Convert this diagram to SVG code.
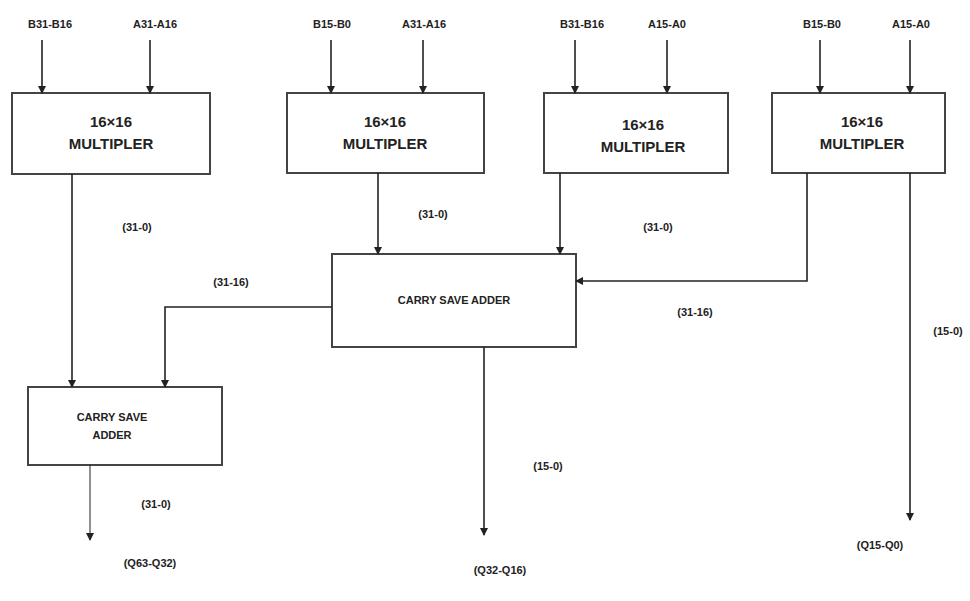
<svg xmlns="http://www.w3.org/2000/svg" width="970" height="601" viewBox="0 0 970 601">
<style>
.box{fill:#fff;stroke:#444;stroke-width:2}
.t{font-family:"Liberation Sans",Arial,sans-serif;fill:#222;text-anchor:middle}
.big{font-size:15px;font-weight:bold}
.sm{font-size:11px;font-weight:bold}
.c{fill:none;stroke:#222;stroke-width:1.6}
</style>
<defs><marker id="a" markerWidth="8" markerHeight="8" refX="7" refY="4" orient="auto" markerUnits="userSpaceOnUse"><path d="M0,0L8,4L0,8z" fill="#222"/></marker></defs>
<rect width="970" height="601" fill="#fff"/>
<g id="m1"><rect class="box" x="12" y="93" width="198" height="81"/><text class="t big" x="111" y="127">16×16</text><text class="t big" x="111" y="149">MULTIPLER</text></g>
<g id="m2"><rect class="box" x="287" y="93" width="197" height="80"/><text class="t big" x="385" y="127">16×16</text><text class="t big" x="385" y="149">MULTIPLER</text></g>
<g id="m3"><rect class="box" x="544" y="93" width="184" height="80"/><text class="t big" x="643" y="130">16×16</text><text class="t big" x="643" y="152">MULTIPLER</text></g>
<g id="m4"><rect class="box" x="772" y="93" width="173" height="80"/><text class="t big" x="862" y="127">16×16</text><text class="t big" x="862" y="149">MULTIPLER</text></g>
<g id="csa1"><rect class="box" x="332" y="254" width="244" height="93"/><text class="t sm" x="454" y="304">CARRY SAVE ADDER</text></g>
<g id="csa2"><rect class="box" x="28" y="387" width="194" height="78"/><text class="t sm" x="112" y="421">CARRY SAVE</text><text class="t sm" x="112" y="439">ADDER</text></g>
<g id="labels">
<text class="t sm" x="50" y="28">B31-B16</text><text class="t sm" x="155" y="28">A31-A16</text>
<text class="t sm" x="332" y="28">B15-B0</text><text class="t sm" x="424" y="28">A31-A16</text>
<text class="t sm" x="582" y="28">B31-B16</text><text class="t sm" x="667" y="28">A15-A0</text>
<text class="t sm" x="822" y="28">B15-B0</text><text class="t sm" x="911" y="28">A15-A0</text>
<text class="t sm" x="137" y="231">(31-0)</text><text class="t sm" x="433" y="218">(31-0)</text><text class="t sm" x="658" y="231">(31-0)</text>
<text class="t sm" x="231" y="286">(31-16)</text><text class="t sm" x="695" y="316">(31-16)</text>
<text class="t sm" x="948" y="335">(15-0)</text>
<text class="t sm" x="548" y="470">(15-0)</text><text class="t sm" x="156" y="508">(31-0)</text>
<text class="t sm" x="150" y="567">(Q63-Q32)</text><text class="t sm" x="500" y="574">(Q32-Q16)</text><text class="t sm" x="880" y="549">(Q15-Q0)</text>
</g>
<g id="connectors">
<path class="c" marker-end="url(#a)" d="M42 40V93"/>
<path class="c" marker-end="url(#a)" d="M150 40V93"/>
<path class="c" marker-end="url(#a)" d="M331 40V93"/>
<path class="c" marker-end="url(#a)" d="M423 40V93"/>
<path class="c" marker-end="url(#a)" d="M575 40V93"/>
<path class="c" marker-end="url(#a)" d="M667 40V93"/>
<path class="c" marker-end="url(#a)" d="M820 40V93"/>
<path class="c" marker-end="url(#a)" d="M910 40V93"/>
<path class="c" marker-end="url(#a)" d="M72 174V387"/>
<path class="c" marker-end="url(#a)" d="M378 173V254"/>
<path class="c" marker-end="url(#a)" d="M560 173V254"/>
<path class="c" marker-end="url(#a)" d="M807 173V281H576"/>
<path class="c" marker-end="url(#a)" d="M910 173V520"/>
<path class="c" marker-end="url(#a)" d="M332 307H165V387"/>
<path class="c" marker-end="url(#a)" d="M484 347V535"/>
<path class="c" style="stroke-width:1" marker-end="url(#a)" d="M90 465V540"/>
</g>
</svg>
